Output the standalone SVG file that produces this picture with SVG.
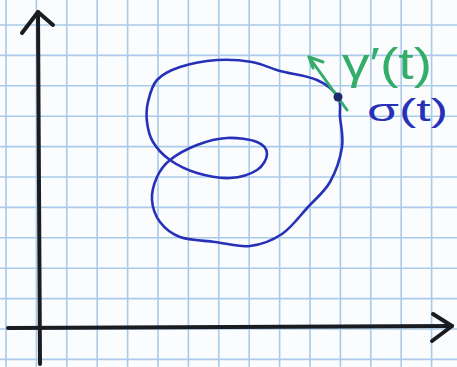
<svg xmlns="http://www.w3.org/2000/svg" width="457" height="367" viewBox="0 0 457 367">
<style>
.grid line{stroke:#a9cbe9;stroke-width:1.6}
.axis{stroke:#1b1b22;stroke-width:4;fill:none;stroke-linecap:round;stroke-linejoin:round}
.curve{stroke:#2631b8;stroke-width:2.6;fill:none;stroke-linejoin:round}
.tan{stroke:#35ad6a;stroke-width:3;fill:none;stroke-linecap:round;stroke-linejoin:round}
.lbl{font-family:"Liberation Sans",Arial,sans-serif}
</style>
<rect width="457" height="367" fill="#fbfcfd"/>
<g class="grid" id="grid">
<line x1="6" y1="0" x2="6" y2="367"/><line x1="36.4" y1="0" x2="36.4" y2="367"/><line x1="66.8" y1="0" x2="66.8" y2="367"/><line x1="97.2" y1="0" x2="97.2" y2="367"/><line x1="127.6" y1="0" x2="127.6" y2="367"/><line x1="158" y1="0" x2="158" y2="367"/><line x1="188.4" y1="0" x2="188.4" y2="367"/><line x1="218.8" y1="0" x2="218.8" y2="367"/><line x1="249.2" y1="0" x2="249.2" y2="367"/><line x1="279.6" y1="0" x2="279.6" y2="367"/><line x1="310" y1="0" x2="310" y2="367"/><line x1="340.4" y1="0" x2="340.4" y2="367"/><line x1="370.8" y1="0" x2="370.8" y2="367"/><line x1="401.2" y1="0" x2="401.2" y2="367"/><line x1="431.6" y1="0" x2="431.6" y2="367"/>
<line x1="0" y1="25" x2="457" y2="25"/><line x1="0" y1="55.4" x2="457" y2="55.4"/><line x1="0" y1="85.8" x2="457" y2="85.8"/><line x1="0" y1="116.2" x2="457" y2="116.2"/><line x1="0" y1="146.6" x2="457" y2="146.6"/><line x1="0" y1="177" x2="457" y2="177"/><line x1="0" y1="207.4" x2="457" y2="207.4"/><line x1="0" y1="237.8" x2="457" y2="237.8"/><line x1="0" y1="268.2" x2="457" y2="268.2"/><line x1="0" y1="298.6" x2="457" y2="298.6"/><line x1="0" y1="329" x2="457" y2="329"/><line x1="0" y1="359.4" x2="457" y2="359.4"/>
</g>
<g id="axes">
<path class="axis" d="M40,364 L38,12"/>
<path class="axis" d="M22,33 L38,12 L53,25"/>
<path class="axis" d="M8,328 L452,326"/>
<path class="axis" d="M433,314 L452,326 L432,341"/>
</g>
<g id="curve">
<path class="curve" d="M338,97 C334.17,90.83 326.67,84.33 317,80 C307.33,75.67 290.83,74 280,71 C269.17,68 262.5,63.83 252,62 C241.5,60.17 229,59.17 217,60 C205,60.83 190,63.67 180,67 C170,70.33 162.33,74.17 157,80 C151.67,85.83 149.67,95 148,102 C146.33,109 146.17,115.33 147,122 C147.83,128.67 149.17,135.67 153,142 C156.83,148.33 162.67,154.83 170,160 C177.33,165.17 187,170 197,173 C207,176 220,178.5 230,178 C240,177.5 250.83,174 257,170 C263.17,166 267,158.67 267,154 C267,149.33 263.67,144.67 257,142 C250.33,139.33 237,137.5 227,138 C217,138.5 206.5,141.33 197,145 C187.5,148.67 176.67,154.67 170,160 C163.33,165.33 160,170.33 157,177 C154,183.67 151.5,192.5 152,200 C152.5,207.5 155.33,215.83 160,222 C164.67,228.17 170.83,233.67 180,237 C189.17,240.33 203.33,240.5 215,242 C226.67,243.5 238.83,247.33 250,246 C261.17,244.67 272.33,240.5 282,234 C291.67,227.5 300,215.67 308,207 C316,198.33 324.33,192 330,182 C335.67,172 340.33,157.83 342,147 C343.67,136.17 340.67,125.33 340,117 C339.33,108.67 341.83,103.17 338,97 Z"/>
</g>
<g id="tangent">
<path class="tan" d="M347,110 L309,57"/>
<path class="tan" d="M323,62 L309,57 L313,68"/>
</g>
<g id="point">
<circle cx="338" cy="97" r="4.5" fill="#1e2a6e"/>
</g>
<g id="labels">
<text class="lbl" x="342" y="79" font-size="44" fill="#35ad6a" textLength="90" lengthAdjust="spacingAndGlyphs">γ′(t)</text>
<text class="lbl" x="367" y="121" font-size="32" fill="#2631b8" textLength="81" lengthAdjust="spacingAndGlyphs">σ(t)</text>
</g>
</svg>
